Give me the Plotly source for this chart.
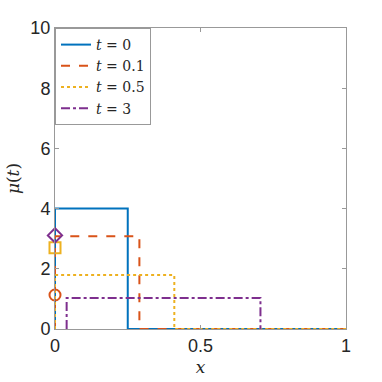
import plotly.graph_objects as go

# step profiles mu(t) at several times
labels = ["t = 0", "t = 0.1", "t = 0.5", "t = 3"]
x_t0 = [0, 0, 0.25, 0.25, 1]
y_t0 = [0, 4.0, 4.0, 0, 0]
x_t01 = [0, 0, 0.29, 0.29, 1]
y_t01 = [0, 3.08, 3.08, 0, 0]
x_t05 = [0, 0, 0.41, 0.41, 1]
y_t05 = [0, 1.79, 1.79, 0, 0]
x_t3 = [0.04, 0.04, 0.706, 0.706]
y_t3 = [0, 1.03, 1.03, 0]

# boundary values at x = 0
mark_x = [0, 0, 0]
mark_y = [1.13, 2.70, 3.11]

colors = ["#0072BD", "#D95319", "#EDB120", "#7E2F8E"]
dashes = ["solid", "dash", "dot", "dashdot"]
series = [(x_t0, y_t0), (x_t01, y_t01), (x_t05, y_t05), (x_t3, y_t3)]

fig = go.Figure()
for (xs, ys), name, c, d in zip(series, labels, colors, dashes):
    t, val = name.split(" = ")
    fig.add_trace(go.Scatter(
        x=xs, y=ys, mode="lines", name=f"<i>{t}</i> = {val}",
        line=dict(color=c, width=2, dash=d), cliponaxis=False,
    ))

symbols = ["circle-open", "square-open", "diamond-open"]
for xm, ym, c, s in zip(mark_x, mark_y, colors[1:], symbols):
    fig.add_trace(go.Scatter(
        x=[xm], y=[ym], mode="markers", showlegend=False, cliponaxis=False,
        marker=dict(symbol=s, color=c, size=11, line=dict(color=c, width=2)),
    ))

axis_common = dict(
    showgrid=False, zeroline=False, showline=True, linecolor="#999999",
    linewidth=1, mirror="allticks", ticks="inside", ticklen=4, automargin=False,
    tickcolor="#999999", tickfont=dict(family="Liberation Sans", size=18, color="#262626"),
)

fig.update_layout(
    width=382, height=382,
    margin=dict(l=55, r=36, t=28, b=53),
    paper_bgcolor="white", plot_bgcolor="white",
    xaxis=dict(range=[0, 1], tickvals=[0, 0.5, 1], ticktext=["0", "0.5", "1"],
               title=dict(text="<i>x</i>", standoff=6,
                          font=dict(family="DejaVu Serif", size=17, color="#262626")),
               **axis_common),
    yaxis=dict(range=[0, 10], tickvals=[0, 2, 4, 6, 8, 10],
               title=dict(text="<i>μ</i>(<i>t</i>)", standoff=6,
                          font=dict(family="DejaVu Serif", size=17, color="#262626")),
               **axis_common),
    legend=dict(x=0, y=1, xanchor="left", yanchor="top", bgcolor="white",
                bordercolor="#999999", borderwidth=1, itemwidth=30,
                font=dict(family="DejaVu Serif", size=14, color="#262626")),
    showlegend=True,
)

# drop the page's default body margin so the figure sits at the window origin
fig.write_html("out.html", config={"displayModeBar": False},
               post_script="document.body.style.margin='0px';")
